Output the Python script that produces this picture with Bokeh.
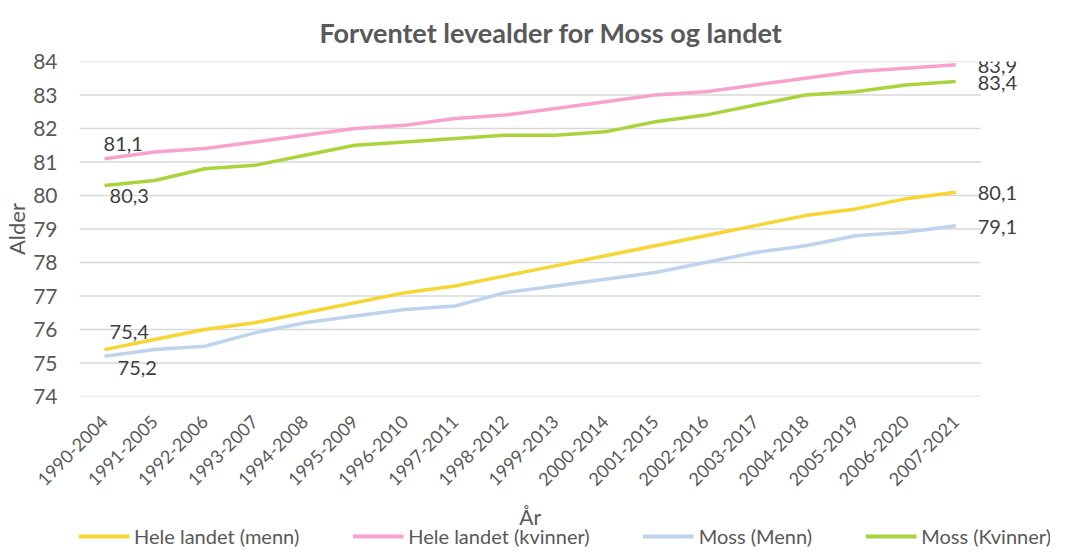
import math
from bokeh.plotting import figure
from bokeh.layouts import column
from bokeh.models import Range1d, Legend, LegendItem, ColumnDataSource, FixedTicker
from bokeh.core.properties import value
from bokeh.embed import file_html
from bokeh.resources import INLINE

categories = ["1990-2004", "1991-2005", "1992-2006", "1993-2007", "1994-2008", "1995-2009",
              "1996-2010", "1997-2011", "1998-2012", "1999-2013", "2000-2014", "2001-2015",
              "2002-2016", "2003-2017", "2004-2018", "2005-2019", "2006-2020", "2007-2021"]

hele_menn = [75.4, 75.7, 76.0, 76.2, 76.5, 76.8, 77.1, 77.3, 77.6, 77.9, 78.2, 78.5,
             78.8, 79.1, 79.4, 79.6, 79.9, 80.1]
hele_kvinner = [81.1, 81.3, 81.4, 81.6, 81.8, 82.0, 82.1, 82.3, 82.4, 82.6, 82.8, 83.0,
                83.1, 83.3, 83.5, 83.7, 83.8, 83.9]
moss_menn = [75.2, 75.4, 75.5, 75.9, 76.2, 76.4, 76.6, 76.7, 77.1, 77.3, 77.5, 77.7,
             78.0, 78.3, 78.5, 78.8, 78.9, 79.1]
moss_kvinner = [80.3, 80.45, 80.8, 80.9, 81.2, 81.5, 81.6, 81.7, 81.8, 81.8, 81.9, 82.2,
                82.4, 82.7, 83.0, 83.1, 83.3, 83.4]

series_names = ["Hele landet (menn)", "Hele landet (kvinner)", "Moss (Menn)", "Moss (Kvinner)"]
series_values = [hele_menn, hele_kvinner, moss_menn, moss_kvinner]
colors = ["#F7D532", "#F7A3CB", "#BDD3EE", "#ABD33E"]
y_ticks = list(range(74, 85))
x_title = "År"
y_title = "Alder"

FONT = "Lato"
TXT = "#595959"
LBL = "#404040"

# layout constants (pixels)
W = 1056
LEG_H = 46
MAIN_H = 502
LEFT, RIGHT, TOP = 75, 6, 52
FRAME_H = 344
BOTTOM = MAIN_H - TOP - FRAME_H
CAT_PX = 905 / len(categories)          # width of one category slot
FRAME_W = W - LEFT - RIGHT

n = len(categories)
xs = list(range(n))
x_end = -0.5 + FRAME_W / CAT_PX

p = figure(x_range=Range1d(-0.5, x_end), y_range=Range1d(74, 84),
           width=W, height=MAIN_H, output_backend="svg", toolbar_location=None,
           min_border_left=LEFT, min_border_right=RIGHT, min_border_top=TOP,
           min_border_bottom=BOTTOM)

p.title.text = "Forventet levealder for Moss og landet"
p.title.align = "left"
p.title.offset = 240
p.title.text_font = FONT
p.title.text_font_size = "27px"
p.title.text_font_style = "bold"
p.title.text_color = TXT
p.title.text_line_height = 0.8
p.title.standoff = 26

p.outline_line_color = None
p.background_fill_color = "white"
p.border_fill_color = "white"
p.xgrid.grid_line_color = None
p.ygrid.grid_line_color = None

# horizontal gridlines only across the category slots
p.segment(x0=[-0.5] * len(y_ticks), x1=[n - 0.5] * len(y_ticks), y0=y_ticks, y1=y_ticks,
          line_color="#D9D9D9", line_width=1.3)

p.yaxis.ticker = y_ticks
p.yaxis.axis_line_color = None
p.yaxis.major_tick_line_color = None
p.yaxis.minor_tick_line_color = None
p.yaxis.major_label_standoff = 16
p.yaxis.major_label_text_font = FONT
p.yaxis.major_label_text_font_size = "21px"
p.yaxis.major_label_text_color = TXT
p.yaxis.axis_label = y_title
p.yaxis.axis_label_text_font = FONT
p.yaxis.axis_label_text_font_size = "22px"
p.yaxis.axis_label_text_font_style = "normal"
p.yaxis.axis_label_text_color = TXT
p.yaxis.axis_label_standoff = 0

p.xaxis.ticker = FixedTicker(ticks=xs)
p.xaxis.major_label_overrides = {i: c for i, c in zip(xs, categories)}
p.xaxis.axis_line_color = None
p.xaxis.major_tick_line_color = None
p.xaxis.minor_tick_line_color = None
p.xaxis.major_label_orientation = math.pi / 4
p.xaxis.major_label_standoff = 16
p.xaxis.major_label_text_font = FONT
p.xaxis.major_label_text_font_size = "18px"
p.xaxis.major_label_text_color = TXT

for vals, col in zip(series_values, colors):
    p.line(x=xs, y=vals, line_color=col, line_width=3.5)

def fmt(v):
    return f"{v:.1f}".replace(".", ",")

# start labels (left end), offsets per series: (x_off, y_off)
start_offsets = [(5, -18), (-1, -15), (13, 12), (5, 11)]
for vals, (xo, yo) in zip(series_values, start_offsets):
    src = ColumnDataSource(dict(x=[xs[0]], y=[vals[0]], t=[fmt(vals[0])]))
    p.text(x="x", y="y", text="t", source=src, x_offset=xo, y_offset=yo,
           text_align="left", text_baseline="middle", text_font=value(FONT),
           text_font_size="20px", text_color=LBL)

# end labels (right end)
for vals in series_values:
    src = ColumnDataSource(dict(x=[xs[-1]], y=[vals[-1]], t=[fmt(vals[-1])]))
    p.text(x="x", y="y", text="t", source=src, x_offset=22, y_offset=1,
           text_align="left", text_baseline="middle", text_font=value(FONT),
           text_font_size="20px", text_color=LBL)

# strip below the chart: x-axis title and legend (series drawn here outside the
# visible range, only their legend samples show)
lf = figure(width=W, height=LEG_H, output_backend="svg", toolbar_location=None,
            x_range=Range1d(-0.5, x_end), y_range=Range1d(0, LEG_H),
            x_axis_location=None, y_axis_location=None,
            min_border_left=0, min_border_right=0, min_border_top=0, min_border_bottom=0)
lf.outline_line_color = None
lf.xgrid.grid_line_color = None
lf.ygrid.grid_line_color = None
lf.background_fill_color = "white"
lf.border_fill_color = "white"
lf.text(x=[(xs[0] + xs[-1]) / 2], y=[LEG_H - 14], text=[x_title], text_align="center",
        text_baseline="middle", text_font=value(FONT), text_font_size="21px",
        text_color=TXT)
items = []
for name, vals, col in zip(series_names, series_values, colors):
    r = lf.line(x=xs, y=vals, line_color=col, line_width=4)
    items.append(LegendItem(label=name, renderers=[r]))
legend = Legend(items=items, orientation="horizontal", location="bottom_center",
                glyph_width=51, glyph_height=18, label_height=18, label_standoff=5,
                spacing=53, label_text_font=FONT, label_text_font_size="20px",
                label_text_color=TXT, label_text_baseline="middle",
                border_line_color=None, background_fill_alpha=0, padding=0, margin=0)
lf.add_layout(legend, "center")

layout = column(p, lf, spacing=0)
open("out.html", "w").write(file_html(layout, INLINE))
